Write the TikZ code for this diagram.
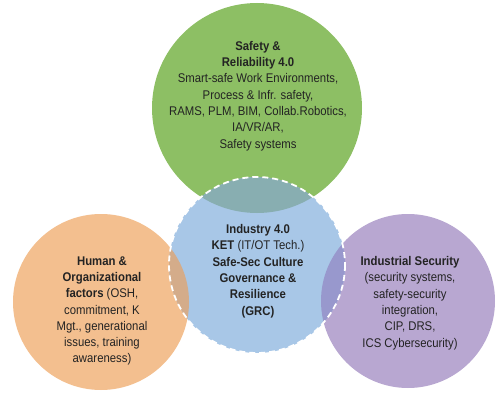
\documentclass[tikz,border=0pt]{standalone}
\usepackage{fontspec}
\setmainfont{Liberation Sans}[FakeStretch=0.9]
\definecolor{cgreen}{HTML}{8DBF64}
\definecolor{cblue}{HTML}{A8C7E7}
\definecolor{corange}{HTML}{F3BF8F}
\definecolor{cpurple}{HTML}{B8A7D1}
\definecolor{cteal}{HTML}{88AEB1}
\definecolor{cbrown}{HTML}{D4AC8A}
\definecolor{cviolet}{HTML}{9898CD}
\definecolor{ctext}{HTML}{232323}
\tikzset{
  lbl/.style={align=center, text=ctext, font=\fontsize{12.6}{16.3}\selectfont, inner sep=0pt},
  bluerim/.style={draw=white, line width=1.8pt, dash pattern=on 6pt off 4pt}
}
\begin{document}
\begin{tikzpicture}[x=1pt,y=-1pt]
\useasboundingbox (0,0) rectangle (496,396);
\def\green{(257,108) circle (105)}
\def\blue{(257,265) circle (88)}
\def\orange{(101,302) circle (88)}
\def\purple{(408,301) circle (87)}
\fill[cgreen] \green;
\fill[corange] \orange;
\fill[cpurple] \purple;
\fill[cblue] \blue;
\begin{scope}\clip \green; \fill[cteal] \blue; \end{scope}
\begin{scope}\clip \orange; \fill[cbrown] \blue; \end{scope}
\begin{scope}\clip \purple; \fill[cviolet] \blue; \end{scope}
\draw[bluerim] \blue;
\node[lbl] (safety) at (258,96) {\textbf{Safety \&}\\ \textbf{Reliability 4.0}\\ Smart-safe Work Environments,\\ Process \& Infr. safety,\\ RAMS, PLM, BIM, Collab.Robotics,\\ IA/VR/AR,\\ Safety systems};
\node[lbl] (industry) at (258,271) {\textbf{Industry 4.0}\\ \textbf{KET} (IT/OT Tech.)\\ \textbf{Safe-Sec Culture}\\ \textbf{Governance \&}\\ \textbf{Resilience}\\ \textbf{(GRC)}};
\node[lbl] (human) at (102,311) {\textbf{Human \&}\\ \textbf{Organizational}\\ \textbf{factors} (OSH,\\ commitment, K\\ Mgt., generational\\ issues, training\\ awareness)};
\node[lbl] (security) at (410,303) {\textbf{Industrial Security}\\ (security systems,\\ safety-security\\ integration,\\ CIP, DRS,\\ ICS Cybersecurity)};
\end{tikzpicture}
\end{document}
